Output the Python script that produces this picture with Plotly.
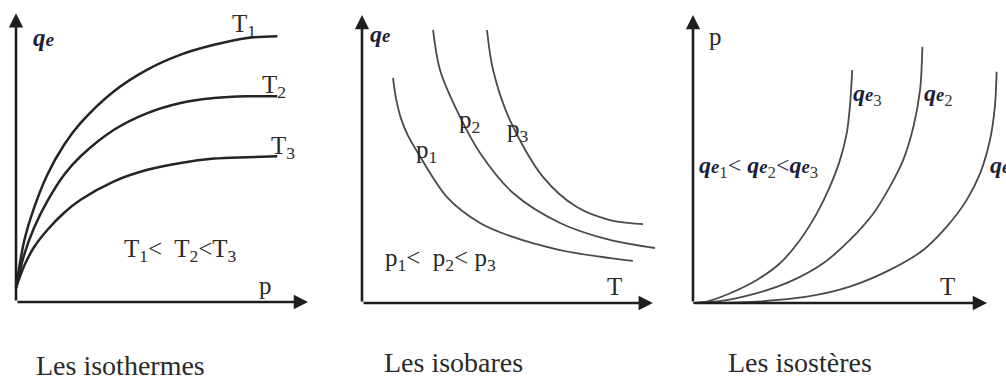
import plotly.graph_objects as go

# ---------------- data (arbitrary units, origin at 0,0 of each panel) ----------------
# Les isothermes : q_e versus p
iso_p = [0, 0.28, 0.62, 1.08, 1.66, 2.23, 3.38, 4.53, 5.68, 6.83, 7.98, 9.01]
iso_T1 = [0.49, 2.11, 3.26, 4.42, 5.46, 6.22, 7.32, 8.07, 8.59, 8.93, 9.17, 9.23]
iso_T2 = [0.49, 1.64, 2.57, 3.50, 4.42, 5.06, 5.98, 6.56, 6.91, 7.08, 7.14, 7.14]
iso_T3 = [0.49, 1.25, 1.90, 2.50, 3.10, 3.55, 4.19, 4.59, 4.83, 4.98, 5.03, 5.06]

# Les isobares : q_e versus T
bar_p1_T = [1.07, 1.17, 1.34, 1.59, 1.93, 2.93, 4.07, 5.10, 6.83, 8.55, 9.34]
bar_p1_q = [7.81, 7.12, 6.42, 5.80, 5.21, 3.68, 2.78, 2.33, 1.84, 1.56, 1.46]
bar_p2_T = [2.45, 2.69, 3.38, 4.07, 5.21, 6.83, 8.55, 10.10]
bar_p2_q = [9.48, 8.09, 6.46, 5.21, 3.82, 2.78, 2.19, 1.91]
bar_p3_T = [4.31, 4.52, 5.10, 6.24, 7.41, 8.55, 9.69]
bar_p3_q = [9.48, 8.09, 6.35, 4.38, 3.33, 2.88, 2.74]

# Les isostères : p versus T
ste_q3_T = [0, 0.47, 1.28, 2.20, 3.00, 3.69, 4.27, 4.72, 5.07, 5.30, 5.41, 5.49]
ste_q3_p = [0, 0.05, 0.34, 0.80, 1.38, 2.19, 3.11, 4.04, 4.97, 5.89, 6.82, 8.09]
ste_q2_T = [0, 1.04, 2.20, 3.34, 4.49, 5.41, 6.22, 6.79, 7.25, 7.60, 7.83, 7.91]
ste_q2_p = [0, 0.08, 0.34, 0.74, 1.38, 2.19, 3.11, 4.04, 4.97, 6.12, 7.40, 8.90]
ste_q1_T = [0, 2.20, 3.92, 5.41, 6.79, 7.94, 8.75, 9.44, 9.90, 10.24, 10.41, 10.47]
ste_q1_p = [0, 0.05, 0.22, 0.57, 1.15, 1.84, 2.65, 3.58, 4.50, 5.66, 6.82, 8.03]

# ---------------- layout geometry ----------------
W, H = 1006, 383
PX_X, PX_Y = 29.0, 28.8          # pixels per unit
SERIF = "Liberation Serif, Times New Roman, serif"
INK = "#1e1e1e"
TXT = "#2a2a2a"
QE = "#1c1f3a"

# (left px, right px, origin x px, origin y px)
panels = [(0, 336, 16, 302), (338, 674, 362, 303), (676, 1006, 693, 303)]

fig = go.Figure()
layout = dict(width=W, height=H, margin=dict(l=0, r=0, t=0, b=0),
              paper_bgcolor="white", plot_bgcolor="white", showlegend=False)

for i, (l, r, ox, oy) in enumerate(panels):
    sx = "" if i == 0 else str(i + 1)
    layout["xaxis" + sx] = dict(domain=[l / W, r / W],
                                range=[-(ox - l) / PX_X, (r - ox) / PX_X],
                                visible=False, fixedrange=True,
                                anchor="y" + sx)
    layout["yaxis" + sx] = dict(domain=[0, 1],
                                range=[-(H - oy) / PX_Y, oy / PX_Y],
                                visible=False, fixedrange=True,
                                anchor="x" + sx)
fig.update_layout(**layout)


def curve(x, y, ax, color, width):
    fig.add_trace(go.Scatter(x=x, y=y, mode="lines",
                             line=dict(color=color, width=width, shape="spline", smoothing=0.9),
                             xaxis="x" + ax, yaxis="y" + ax, hoverinfo="skip"))


curve(iso_p, iso_T1, "", "#242424", 2.5)
curve(iso_p, iso_T2, "", "#242424", 2.5)
curve(iso_p, iso_T3, "", "#242424", 2.5)

curve(bar_p1_T, bar_p1_q, "2", "#4a4a4a", 1.8)
curve(bar_p2_T, bar_p2_q, "2", "#4a4a4a", 1.8)
curve(bar_p3_T, bar_p3_q, "2", "#4a4a4a", 1.8)

curve(ste_q3_T, ste_q3_p, "3", "#4a4a4a", 1.8)
curve(ste_q2_T, ste_q2_p, "3", "#4a4a4a", 1.8)
curve(ste_q1_T, ste_q1_p, "3", "#4a4a4a", 1.8)

# axes drawn as arrows
axis_tips = [(10.07, 10.03, ""), (10.03, 10.0, "2"), (10.14, 10.0, "3")]
ann = []
for tx, ty, ax in axis_tips:
    for (x, y) in [(tx, 0), (0, ty)]:
        ann.append(dict(x=x, y=y, ax=0, ay=0, xref="x" + ax, yref="y" + ax,
                        axref="x" + ax, ayref="y" + ax, text="", showarrow=True,
                        arrowhead=2, arrowsize=1.1, arrowwidth=2.6, arrowcolor=INK,
                        standoff=0, startstandoff=0))


def label(x, y, text, ax, size=25, color=TXT, xanchor="center", yanchor="middle"):
    ann.append(dict(x=x, y=y, xref="x" + ax, yref="y" + ax, text=text, showarrow=False,
                    xanchor=xanchor, yanchor=yanchor,
                    font=dict(family=SERIF, size=size, color=color)))


def qe(sub=""):
    s = '<b><i>q</i></b><span style="font-size:78%"><b><i>e</i></b></span>'
    if sub:
        s += '<sub><span style="color:#3a3a3a">%s</span></sub>' % sub
    return s


# panel 1
label(0.95, 9.2, qe(), "", size=25, color=QE)
label(7.38, 9.6, "T<sub>1</sub>", "", xanchor="left")
label(8.41, 7.5, "T<sub>2</sub>", "", xanchor="left")
label(8.72, 5.35, "T<sub>3</sub>", "", xanchor="left")
label(5.66, 1.8, "T<sub>1</sub>&lt;  T<sub>2</sub>&lt;T<sub>3</sub>", "")
label(8.59, 0.56, "p", "")
label(3.59, -2.19, "Les isothermes", "", size=28)

# panel 2
label(0.62, 9.34, qe(), "2", size=24, color=QE)
label(2.24, 5.25, "p<sub>1</sub>", "2")
label(3.72, 6.3, "p<sub>2</sub>", "2")
label(5.38, 6.0, "p<sub>3</sub>", "2")
label(2.72, 1.5, "p<sub>1</sub>&lt;  p<sub>2</sub>&lt; p<sub>3</sub>", "2")
label(8.69, 0.59, "T", "2")
label(3.14, -2.08, "Les isobares", "2", size=28)

# panel 3
label(0.79, 9.27, "p", "3")
label(5.45, 7.22, qe("3"), "3", size=24, color=QE, xanchor="left")
label(7.9, 7.22, qe("2"), "3", size=24, color=QE, xanchor="left")
label(10.17, 4.72, qe("1"), "3", size=24, color=QE, xanchor="left")
label(0.14, 4.72, qe("1") + "&lt; " + qe("2") + "&lt;" + qe("3"), "3", size=24,
      color=QE, xanchor="left")
label(8.76, 0.59, "T", "3")
label(3.69, -2.08, "Les isostères", "3", size=28)

fig.update_layout(annotations=ann)
fig.write_html("out.html")
